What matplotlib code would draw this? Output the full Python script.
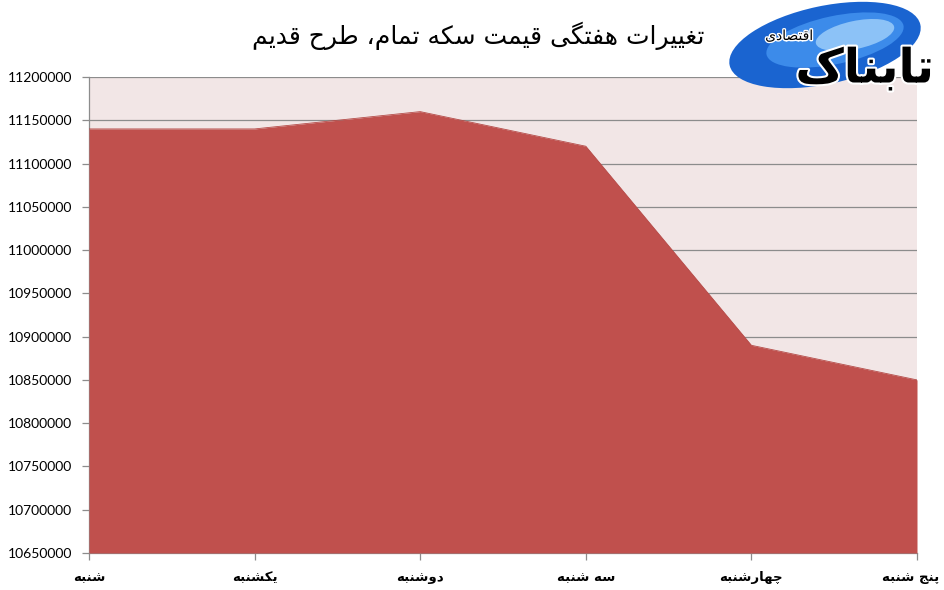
import matplotlib
matplotlib.use("Agg")
import matplotlib.pyplot as plt
import matplotlib.patheffects as pe
from matplotlib.patches import Ellipse
from matplotlib.ticker import FuncFormatter
from matplotlib.transforms import ScaledTranslation

# --- data ---
days = ["شنبه", "یکشنبه", "دوشنبه", "سه شنبه", "چهارشنبه", "پنج شنبه"]
prices = [11140000, 11140000, 11160000, 11120000, 10890000, 10850000]
y_min, y_max, y_step = 10650000, 11200000, 50000
title = "تغییرات هفتگی قیمت سکه تمام، طرح قدیم"
logo_big = "تابناک"
logo_small = "اقتصادی"

# --- tiny arabic/persian shaper (presentation forms + reversed for RTL) ---
FORMS = {
    'ا': ('\uFE8D', '\uFE8E', None, None),
    'ب': ('\uFE8F', '\uFE90', '\uFE91', '\uFE92'),
    'پ': ('\uFB56', '\uFB57', '\uFB58', '\uFB59'),
    'ت': ('\uFE95', '\uFE96', '\uFE97', '\uFE98'),
    'ج': ('\uFE9D', '\uFE9E', '\uFE9F', '\uFEA0'),
    'چ': ('\uFB7A', '\uFB7B', '\uFB7C', '\uFB7D'),
    'ح': ('\uFEA1', '\uFEA2', '\uFEA3', '\uFEA4'),
    'د': ('\uFEA9', '\uFEAA', None, None),
    'ر': ('\uFEAD', '\uFEAE', None, None),
    'س': ('\uFEB1', '\uFEB2', '\uFEB3', '\uFEB4'),
    'ش': ('\uFEB5', '\uFEB6', '\uFEB7', '\uFEB8'),
    'ص': ('\uFEB9', '\uFEBA', '\uFEBB', '\uFEBC'),
    'ط': ('\uFEC1', '\uFEC2', '\uFEC3', '\uFEC4'),
    'غ': ('\uFECD', '\uFECE', '\uFECF', '\uFED0'),
    'ف': ('\uFED1', '\uFED2', '\uFED3', '\uFED4'),
    'ق': ('\uFED5', '\uFED6', '\uFED7', '\uFED8'),
    'ک': ('\uFB8E', '\uFB8F', '\uFB90', '\uFB91'),
    'گ': ('\uFB92', '\uFB93', '\uFB94', '\uFB95'),
    'ل': ('\uFEDD', '\uFEDE', '\uFEDF', '\uFEE0'),
    'م': ('\uFEE1', '\uFEE2', '\uFEE3', '\uFEE4'),
    'ن': ('\uFEE5', '\uFEE6', '\uFEE7', '\uFEE8'),
    'ه': ('\uFEE9', '\uFEEA', '\uFEEB', '\uFEEC'),
    'و': ('\uFEED', '\uFEEE', None, None),
    'ی': ('\uFBFC', '\uFBFD', '\uFBFE', '\uFBFF'),
}


def shape(text):
    out = []
    for i, ch in enumerate(text):
        if ch not in FORMS:
            out.append(ch)
            continue
        iso, fin, ini, med = FORMS[ch]
        prev = text[i - 1] if i > 0 else ''
        nxt = text[i + 1] if i < len(text) - 1 else ''
        jp = prev in FORMS and FORMS[prev][2] is not None
        jn = ini is not None and nxt in FORMS
        if jp and jn:
            out.append(med)
        elif jp:
            out.append(fin)
        elif jn:
            out.append(ini)
        else:
            out.append(iso)
    return ''.join(reversed(out))


# --- figure ---
fig = plt.figure(figsize=(9.45, 5.9), dpi=100)
ax = fig.add_axes([89 / 945, 37 / 590, (917 - 89) / 945, (553 - 77) / 590])
ax.set_facecolor("#F2E6E6")

x = list(range(len(days)))
ax.fill_between(x, prices, y_min, color="#C0504D", zorder=3, linewidth=0)
ax.plot(x, prices, color="#B54A47", linewidth=0.6, zorder=4)

ax.set_xlim(0, len(days) - 1)
ax.set_ylim(y_min, y_max)
ax.set_yticks(range(y_min, y_max + 1, y_step))
ax.yaxis.set_major_formatter(FuncFormatter(lambda v, p: f"{int(v)}"))
ax.grid(axis="y", color="#8C8C8C", linewidth=0.9, zorder=1)
ax.set_axisbelow(True)

ax.set_xticks(x)
ax.set_xticklabels([shape(d) for d in days], fontfamily="DejaVu Sans",
                   fontweight="bold", fontsize=9.6)
for lab in ax.get_yticklabels():
    lab.set_fontfamily("Lato")
    lab.set_fontsize(10)

ax.tick_params(axis="both", color="#8C8C8C", length=5, width=0.9)
ax.tick_params(axis="y", pad=7)
ax.tick_params(axis="x", pad=8)
# last label sits at the right edge, nudge it in a bit
last = ax.get_xticklabels()[-1]
last.set_transform(last.get_transform() +
                   ScaledTranslation(-0.06, 0, fig.dpi_scale_trans))
for s in ["top", "right"]:
    ax.spines[s].set_visible(False)
for s in ["left", "bottom"]:
    ax.spines[s].set_color("#8C8C8C")
    ax.spines[s].set_linewidth(0.9)

fig.text(478 / 945, 1 - 36 / 590, shape(title), ha="center", va="center",
         fontfamily="DejaVu Sans", fontsize=18)

# --- logo ---
inch = fig.dpi_scale_trans
fig.add_artist(Ellipse((8.25, 5.45), 1.95, 0.78, angle=12, transform=inch,
                       facecolor="#1A64D0", edgecolor="none", zorder=10))
fig.add_artist(Ellipse((8.35, 5.5), 1.4, 0.48, angle=12, transform=inch,
                       facecolor="#3C8BEA", edgecolor="none", zorder=10))
fig.add_artist(Ellipse((8.55, 5.55), 0.8, 0.28, angle=12, transform=inch,
                       facecolor="#8CC2F7", edgecolor="none", zorder=10))
fig.text(0.915, 1 - 70 / 590, shape(logo_big), ha="center", va="center",
         fontfamily="DejaVu Sans", fontweight="bold", fontsize=34,
         color="black", zorder=11,
         path_effects=[pe.withStroke(linewidth=3, foreground="white")])
fig.text(0.835, 1 - 36 / 590, shape(logo_small), ha="center", va="center",
         fontfamily="DejaVu Sans", fontsize=10, color="black", zorder=11,
         path_effects=[pe.withStroke(linewidth=2, foreground="white")])

fig.savefig("out.png", dpi=100)
